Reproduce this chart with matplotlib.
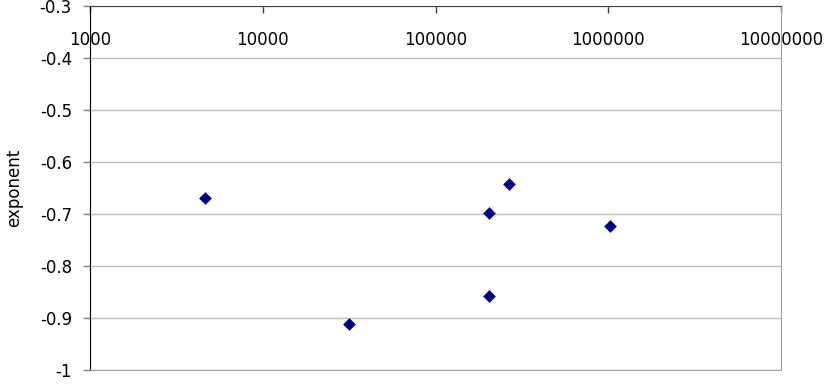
import numpy as np
import matplotlib
matplotlib.use("Agg")
import matplotlib.pyplot as plt
from matplotlib.ticker import FuncFormatter, NullLocator, FixedLocator

plt.rcParams['font.family'] = ['DejaVu Sans']
plt.rcParams['axes.unicode_minus'] = False

# data
size = [4630, 31700, 203200, 203700, 266500, 1028000]
exponent = [-0.669, -0.912, -0.699, -0.857, -0.643, -0.724]

x_ticks = [1000, 10000, 100000, 1000000, 10000000]
y_ticks = [-1, -0.9, -0.8, -0.7, -0.6, -0.5, -0.4, -0.3]

fig = plt.figure(figsize=(8.24, 3.88), dpi=100)
ax = fig.add_axes([90 / 824, 1 - 370 / 388, (781 - 90) / 824, (370 - 6) / 388])

ax.scatter(size, exponent, marker='D', s=42, color='#000080', zorder=3, linewidths=0)

ax.set_xscale('log')
ax.set_xlim(1000, 10000000)
ax.set_ylim(-1, -0.3)

ax.xaxis.set_major_locator(FixedLocator(x_ticks))
ax.xaxis.set_minor_locator(NullLocator())
ax.xaxis.set_major_formatter(FuncFormatter(lambda v, p: f"{int(round(v))}"))
ax.yaxis.set_major_locator(FixedLocator(y_ticks))
ax.yaxis.set_major_formatter(FuncFormatter(lambda v, p: f"{v:g}"))

# x axis sits at the top, labels hang just below it
ax.xaxis.tick_top()
ax.tick_params(axis='x', direction='in', length=5, width=1, color='#404040',
               labelsize=12, pad=-31)
ax.tick_params(axis='y', direction='out', length=5, width=1, color='#808080',
               labelsize=12, pad=8)

ax.grid(axis='y', color='#c0c0c0', lw=1)
ax.set_axisbelow(True)

ax.spines['left'].set_color('black')
ax.spines['top'].set_color('#404040')
ax.spines['right'].set_color('#a0a0a0')
ax.spines['bottom'].set_color('#a0a0a0')

ax.set_ylabel('exponent', fontsize=12, labelpad=12)

fig.savefig('out.png', dpi=100)
